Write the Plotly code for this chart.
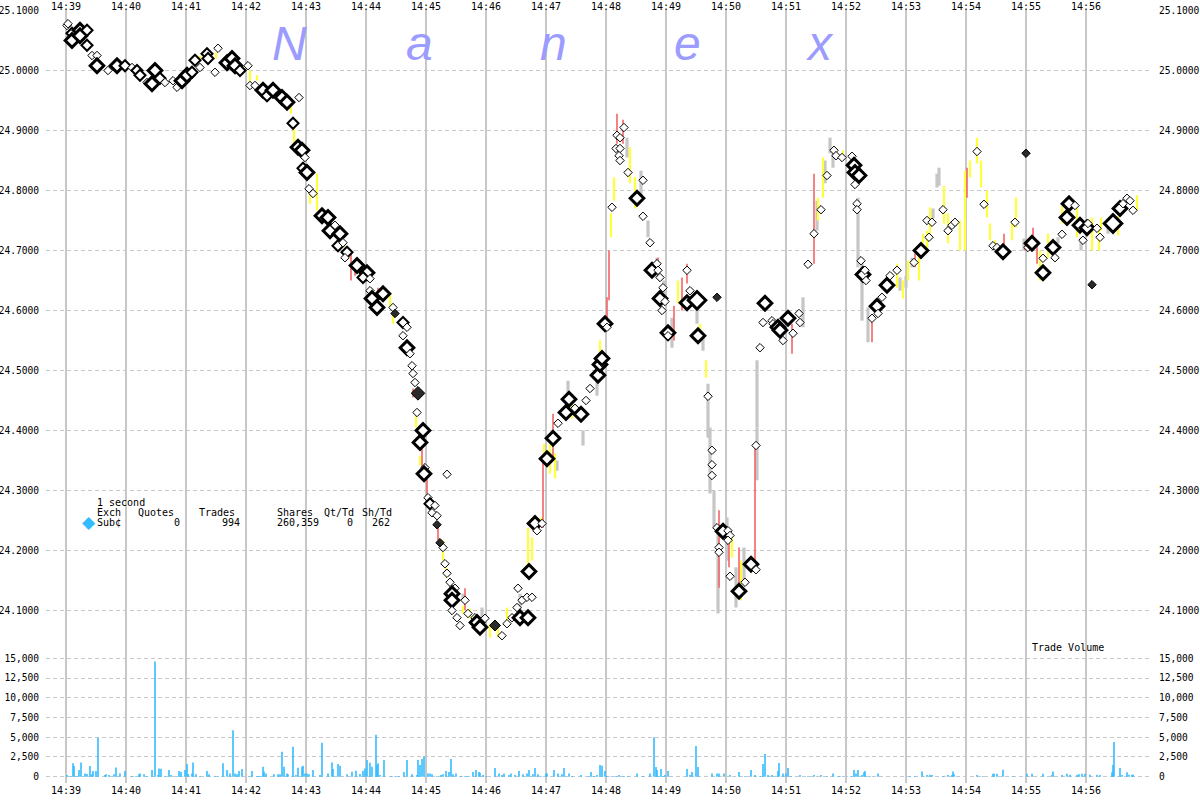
import plotly.graph_objects as go

# ---------------- data ----------------
minute_labels = ["14:39", "14:40", "14:41", "14:42", "14:43", "14:44", "14:45", "14:46", "14:47",
                 "14:48", "14:49", "14:50", "14:51", "14:52", "14:53", "14:54", "14:55", "14:56"]
minute_sec = [0, 60, 120, 180, 240, 300, 360, 420, 480, 540, 600, 660, 720, 780, 840, 900, 960, 1020]

price_ticks = [24.1, 24.2, 24.3, 24.4, 24.5, 24.6, 24.7, 24.8, 24.9, 25.0, 25.1]
volume_ticks = [0, 2500, 5000, 7500, 10000, 12500, 15000]

# trades (seconds after 14:39:00, price, size class S/M/B/H)
trade_sec = [
    1, 2, 6, 6, 14, 14, 21, 21, 26, 31,
    31, 42, 51, 59, 66, 71, 74, 81, 86, 89,
    94, 99, 107, 111, 116, 121, 126, 129, 134, 141,
    142, 149, 152, 161, 166, 169, 174, 182, 184, 189,
    197, 201, 207, 216, 221, 233, 227, 232, 236, 239,
    237, 241, 243, 247, 256, 262, 264, 269, 274, 272,
    277, 281, 279, 291, 301, 297, 304, 304, 306, 311,
    317, 327, 337, 341, 337, 341, 344, 346, 347, 349,
    351, 357, 354, 359, 358, 381, 362, 364, 369, 366,
    371, 377, 379, 381, 384, 389, 386, 386, 386, 391,
    394, 399, 402, 409, 411, 414, 419, 436, 441, 446,
    451, 452, 456, 454, 462, 461, 466, 463, 469, 471,
    476, 481, 487, 492, 500, 503, 509, 515, 520, 524,
    532, 534, 536, 539, 541, 546, 550, 551, 554, 554,
    553, 554, 558, 562, 571, 577, 577, 584, 586, 591,
    592, 594, 597, 594, 599, 596, 602, 602, 621, 624,
    621, 631, 632, 642, 646, 646, 646, 651, 653, 653,
    657, 662, 664, 662, 664, 673, 679, 685, 690, 690,
    694, 697, 699, 706, 707, 712, 714, 717, 722, 727,
    733, 734, 742, 748, 755, 761, 768, 770, 776, 786,
    788, 789, 793, 789, 791, 791, 795, 797, 799, 800,
    806, 811, 812, 816, 821, 824, 831, 848, 855, 863,
    861, 866, 877, 882, 886, 889, 911, 918, 927, 931,
    937, 949, 962, 966, 977, 977, 987, 989, 996, 1003,
    1009, 1001, 1014, 1017, 1021, 1022, 1031, 1034, 1047, 1054,
    1057, 1061, 1064, 1067,
]
trade_price = [
    25.075, 25.078, 25.062, 25.050, 25.067, 25.058, 25.067, 25.042, 25.025, 25.025,
    25.008, 25.000, 25.008, 25.008, 25.005, 25.000, 24.992, 24.980, 24.978, 25.000,
    24.987, 24.980, 24.983, 24.972, 24.983, 24.992, 24.997, 25.017, 25.005, 25.028,
    25.020, 24.997, 25.037, 25.013, 25.020, 25.008, 25.000, 25.008, 24.975, 24.975,
    24.967, 24.958, 24.967, 24.955, 24.947, 24.955, 24.912, 24.872, 24.867, 24.855,
    24.837, 24.830, 24.803, 24.795, 24.758, 24.755, 24.733, 24.742, 24.728, 24.708,
    24.713, 24.697, 24.688, 24.675, 24.663, 24.655, 24.653, 24.633, 24.620, 24.605,
    24.628, 24.605, 24.580, 24.572, 24.558, 24.538, 24.528, 24.508, 24.495, 24.480,
    24.430, 24.400, 24.380, 24.338, 24.328, 24.327, 24.288, 24.278, 24.275, 24.263,
    24.258, 24.205, 24.178, 24.162, 24.147, 24.137, 24.128, 24.117, 24.100, 24.088,
    24.075, 24.117, 24.095, 24.088, 24.080, 24.072, 24.087, 24.058, 24.078, 24.088,
    24.105, 24.137, 24.117, 24.088, 24.088, 24.122, 24.122, 24.165, 24.245, 24.233,
    24.245, 24.353, 24.387, 24.412, 24.430, 24.452, 24.437, 24.427, 24.450, 24.470,
    24.492, 24.510, 24.520, 24.578, 24.572, 24.772, 24.870, 24.892, 24.888, 24.870,
    24.858, 24.850, 24.905, 24.830, 24.787, 24.817, 24.757, 24.713, 24.667, 24.678,
    24.667, 24.655, 24.638, 24.620, 24.615, 24.600, 24.563, 24.558, 24.667, 24.633,
    24.613, 24.617, 24.558, 24.457, 24.367, 24.343, 24.325, 24.238, 24.205, 24.197,
    24.232, 24.233, 24.225, 24.217, 24.157, 24.132, 24.147, 24.177, 24.168, 24.375,
    24.538, 24.580, 24.612, 24.583, 24.578, 24.572, 24.567, 24.550, 24.587, 24.562,
    24.595, 24.580, 24.677, 24.728, 24.768, 24.825, 24.867, 24.858, 24.855, 24.857,
    24.842, 24.830, 24.825, 24.810, 24.778, 24.768, 24.683, 24.660, 24.667, 24.650,
    24.587, 24.607, 24.595, 24.622, 24.642, 24.658, 24.667, 24.680, 24.700, 24.722,
    24.750, 24.747, 24.768, 24.733, 24.742, 24.747, 24.865, 24.777, 24.708, 24.705,
    24.698, 24.747, 24.705, 24.712, 24.687, 24.663, 24.705, 24.688, 24.727, 24.778,
    24.775, 24.755, 24.742, 24.717, 24.738, 24.745, 24.737, 24.722, 24.745, 24.770,
    24.778, 24.787, 24.783, 24.767,
]
trade_size = (
    "SSMBBBMMSS" "BSBMSMMSBB" "MSSSBBMMSM" "MSSBBBMSSS" "BMBBBSMBBS"
    "MBSSBBBSBM" "SMSBBMSSBB" "BSMSSBSSSS" "SBBSBSSMSS" "SSSSSSBBSS"
    "SSSSBBSSSS" "SSSBBSSBBS" "SBBSBBSBSS" "BBBBSSSSSS" "SSSSBSSSBS"
    "SSSBSSBSSS" "BHBSSSSSSS" "BSSSSBSBSS" "SSBSSBBSBS" "SSSSSSSSSS"
    "BBBSSSSBSS" "SBSSBSSSBS" "SSSSSSSSSS" "BSSBSBBSSB" "SBBSBSSSHB"
    "SSSS"
)

# dark (filled) trades
dark_sec = [329, 352, 371, 374, 429, 651, 960, 1026]
dark_price = [24.595, 24.462, 24.243, 24.213, 24.075, 24.622, 24.862, 24.643]
dark_size = "SBSSMSSS"

# quote ranges per second
yellow_sec = [94, 134, 150, 184, 191, 225, 228, 244, 251, 280,
              324, 327, 350, 354, 377, 380, 397, 404, 424, 432,
              441, 462, 466, 475, 478, 484, 489, 506, 534, 545,
              548, 564, 569, 612, 634, 640, 666, 675, 752, 757,
              777, 812, 831, 837, 842, 853, 857, 861, 864, 878,
              882, 894, 899, 904, 911, 915, 921, 924, 929, 946,
              950, 974, 982, 996, 1011, 1026, 1033, 1035, 1052, 1071]
yellow_lo = [24.983, 25.017, 25.020, 24.972, 24.983, 24.928, 24.878, 24.778, 24.767, 24.683,
             24.605, 24.578, 24.405, 24.342, 24.183, 24.155, 24.095, 24.087, 24.055, 24.055,
             24.083, 24.162, 24.183, 24.242, 24.350, 24.328, 24.320, 24.420, 24.517, 24.722,
             24.783, 24.812, 24.770, 24.612, 24.550, 24.488, 24.188, 24.117, 24.750, 24.788,
             24.855, 24.588, 24.638, 24.620, 24.650, 24.650, 24.712, 24.695, 24.717, 24.745,
             24.712, 24.700, 24.700, 24.822, 24.845, 24.805, 24.755, 24.717, 24.705, 24.717,
             24.738, 24.650, 24.688, 24.745, 24.722, 24.700, 24.700, 24.733, 24.725, 24.767]
yellow_hi = [24.992, 25.025, 25.030, 25.000, 24.992, 24.950, 24.905, 24.800, 24.828, 24.708,
             24.628, 24.595, 24.428, 24.358, 24.217, 24.172, 24.108, 24.103, 24.078, 24.072,
             24.105, 24.238, 24.222, 24.255, 24.378, 24.378, 24.362, 24.455, 24.550, 24.762,
             24.822, 24.872, 24.822, 24.650, 24.578, 24.517, 24.222, 24.183, 24.788, 24.855,
             24.867, 24.612, 24.678, 24.650, 24.683, 24.695, 24.728, 24.733, 24.772, 24.808,
             24.762, 24.750, 24.833, 24.850, 24.888, 24.850, 24.800, 24.745, 24.717, 24.750,
             24.788, 24.700, 24.728, 24.775, 24.778, 24.755, 24.733, 24.755, 24.758, 24.792]

red_sec = [285, 289, 312, 347, 356, 361, 372, 399, 477, 487,
           541, 543, 551, 557, 592, 608, 616, 621, 653, 663,
           673, 689, 726, 748, 806, 849, 854, 901, 938, 959,
           967, 971]
red_lo = [24.650, 24.658, 24.617, 24.455, 24.333, 24.295, 24.217, 24.100, 24.238, 24.355,
          24.578, 24.617, 24.878, 24.878, 24.655, 24.550, 24.600, 24.645, 24.138, 24.172,
          24.128, 24.167, 24.528, 24.678, 24.547, 24.672, 24.687, 24.788, 24.700, 24.700,
          24.700, 24.678]
red_hi = [24.700, 24.680, 24.638, 24.470, 24.370, 24.320, 24.238, 24.137, 24.350, 24.428,
          24.622, 24.700, 24.928, 24.918, 24.688, 24.608, 24.655, 24.678, 24.267, 24.228,
          24.205, 24.372, 24.578, 24.828, 24.583, 24.695, 24.708, 24.838, 24.728, 24.713,
          24.738, 24.717]

grey_sec = [397, 416, 454, 491, 502, 517, 531, 561, 575, 582,
            591, 598, 606, 631, 637, 642, 644, 648, 652, 661,
            670, 678, 691, 691, 737, 751, 759, 764, 767, 792,
            796, 802, 834, 840, 846, 867, 871, 873, 958, 992,
            1015, 1042]
grey_lo = [24.117, 24.078, 24.095, 24.333, 24.450, 24.375, 24.458, 24.855, 24.783, 24.722,
           24.655, 24.617, 24.538, 24.578, 24.533, 24.388, 24.295, 24.238, 24.095, 24.183,
           24.105, 24.150, 24.405, 24.317, 24.572, 24.733, 24.812, 24.862, 24.838, 24.672,
           24.583, 24.547, 24.633, 24.638, 24.672, 24.753, 24.805, 24.808, 24.700, 24.712,
           24.700, 24.728]
grey_hi = [24.128, 24.105, 24.128, 24.350, 24.483, 24.400, 24.483, 24.888, 24.833, 24.750,
           24.688, 24.650, 24.588, 24.612, 24.555, 24.478, 24.405, 24.300, 24.238, 24.255,
           24.172, 24.205, 24.517, 24.405, 24.622, 24.783, 24.850, 24.888, 24.863, 24.788,
           24.683, 24.605, 24.655, 24.658, 24.688, 24.770, 24.828, 24.838, 24.720, 24.722,
           24.722, 24.738]

# per-second trade volume
vol_sec = [
    1, 5, 7, 8, 11, 13, 15, 19, 21, 24,
    26, 27, 30, 32, 39, 40, 43, 48, 50, 54,
    59, 66, 70, 73, 74, 78, 81, 86, 89, 92,
    93, 95, 99, 103, 105, 111, 113, 115, 119, 121,
    122, 126, 127, 130, 134, 141, 143, 149, 152, 157,
    161, 164, 167, 169, 171, 173, 176, 183, 186, 191,
    193, 195, 197, 198, 200, 208, 212, 214, 216, 218,
    221, 222, 227, 230, 232, 236, 237, 239, 241, 243,
    247, 254, 256, 262, 266, 267, 272, 274, 281, 286,
    290, 294, 297, 299, 301, 304, 306, 310, 311, 312,
    314, 318, 325, 329, 333, 338, 341, 346, 351, 352,
    354, 356, 358, 362, 364, 366, 371, 375, 377, 380,
    383, 385, 387, 390, 395, 399, 401, 407, 410, 413,
    414, 417, 420, 429, 433, 436, 438, 443, 445, 449,
    453, 457, 461, 463, 467, 469, 472, 475, 480, 481,
    488, 492, 496, 498, 503, 506, 515, 523, 525, 528,
    531, 534, 536, 539, 541, 546, 551, 553, 558, 562,
    571, 577, 584, 588, 590, 591, 593, 595, 597, 599,
    602, 621, 624, 626, 630, 632, 646, 651, 653, 658,
    664, 673, 679, 685, 689, 694, 697, 699, 702, 706,
    707, 712, 713, 717, 720, 722, 725, 734, 742, 748,
    755, 761, 767, 773, 777, 785, 788, 790, 792, 796,
    798, 799, 804, 812, 844, 849, 856, 861, 864, 866,
    877, 882, 886, 887, 888, 911, 917, 927, 928, 931,
    937, 947, 961, 966, 977, 986, 987, 996, 1001, 1004,
    1011, 1013, 1016, 1019, 1024, 1031, 1034, 1046, 1047, 1048,
    1054, 1056, 1061, 1063, 1066, 1067,
]
vol_shares = [
    200, 100, 1700, 1350, 100, 850, 1800, 420, 350, 1350,
    300, 720, 720, 4950, 200, 300, 200, 300, 1180, 420,
    720, 100, 100, 300, 420, 300, 100, 850, 14600, 200,
    1050, 1000, 100, 850, 200, 100, 720, 630, 850, 1600,
    350, 420, 1800, 300, 100, 720, 300, 100, 100, 1700,
    850, 420, 5900, 400, 300, 720, 970, 100, 720, 100,
    100, 100, 1270, 650, 420, 300, 300, 300, 3170, 1270,
    420, 300, 3800, 200, 1140, 1270, 1400, 400, 400, 300,
    850, 200, 4300, 400, 1800, 970, 1600, 1400, 300, 630,
    760, 350, 760, 1050, 2100, 1770, 1270, 5300, 1480, 1690,
    200, 2100, 100, 100, 100, 600, 2100, 300, 200, 2100,
    1480, 2240, 2600, 400, 400, 300, 100, 200, 300, 720,
    600, 2240, 300, 420, 100, 100, 100, 600, 850, 600,
    500, 200, 100, 1100, 400, 200, 400, 200, 400, 200,
    720, 300, 400, 850, 300, 1100, 300, 100, 400, 400,
    850, 400, 300, 1100, 400, 100, 200, 100, 600, 100,
    200, 1480, 1400, 720, 100, 100, 100, 200, 100, 100,
    400, 100, 400, 5000, 1230, 850, 100, 970, 100, 200,
    720, 970, 200, 600, 3900, 1230, 400, 400, 400, 400,
    200, 600, 100, 850, 200, 100, 1600, 2870, 200, 200,
    100, 720, 1730, 400, 400, 1100, 100, 200, 100, 200,
    200, 100, 400, 100, 100, 100, 850, 400, 850, 200,
    550, 720, 100, 420, 100, 100, 670, 200, 250, 200,
    100, 200, 200, 670, 300, 200, 100, 380, 380, 380,
    880, 100, 380, 380, 380, 200, 670, 200, 380, 250,
    250, 300, 380, 380, 250, 250, 200, 550, 1500, 4400,
    1100, 200, 550, 250, 250, 250,
]

# legend block values
stat_interval = "1 second"
stat_headers = ["Exch", "Quotes", "Trades", "Shares", "Qt/Td", "Sh/Td"]
stat_exchange = "Sub¢"
stat_quotes = 0
stat_trades = 994
stat_shares = 260359
stat_qt_per_td = 0
stat_sh_per_td = 262

watermark_letters = ["N", "a", "n", "e", "x"]

# ---------------- styling / layout ----------------
W, H = 1200, 800
ML, MR, MT, MB = 46, 48, 10, 17
PW, PH = W - ML - MR, H - MT - MB
Y_SPLIT = 644  # pixel row where price panel meets volume panel


def fx(px):
    return (px - ML) / PW


def fy(py):
    return (H - MB - py) / PH


split = fy(Y_SPLIT)
x_range = [-20, 1086]
price_range = [25.1 - (Y_SPLIT - 10.5) / 600.0, 25.1 + 0.5 / 600.0]
vpp = 15000 / 118.4  # shares per pixel in volume panel
volume_range = [-(H - MB - 776.7) * vpp, (776.7 - Y_SPLIT) * vpp]

MONO = "DejaVu Sans Mono"
GRID = "#c8c8c8"

size_map = {"S": 6.5, "M": 8.5, "B": 10.5, "H": 13.5}
lw_map = {"S": 1.0, "M": 2.0, "B": 3.0, "H": 3.0}

fig = go.Figure()

# volume bars
fig.add_trace(go.Bar(x=vol_sec, y=vol_shares, width=1.6,
                     marker=dict(color="#33bbff", line=dict(width=0), opacity=1),
                     xaxis="x", yaxis="y2", hoverinfo="skip"))


def seg(secs, lo, hi):
    xs, ys = [], []
    for s, a, b in zip(secs, lo, hi):
        xs += [s, s, None]
        ys += [a, b, None]
    return xs, ys


for secs, lo, hi, col, w in [(grey_sec, grey_lo, grey_hi, "#c6c6c6", 3.2),
                              (yellow_sec, yellow_lo, yellow_hi, "#ffff3c", 2.2),
                              (red_sec, red_lo, red_hi, "#f26464", 1.6)]:
    xs, ys = seg(secs, lo, hi)
    fig.add_trace(go.Scatter(x=xs, y=ys, mode="lines", line=dict(color=col, width=w),
                             xaxis="x", yaxis="y", hoverinfo="skip"))

fig.add_trace(go.Scatter(
    x=trade_sec, y=trade_price, mode="markers", xaxis="x", yaxis="y", opacity=1,
    marker=dict(symbol="diamond", color="white", opacity=1,
                size=[size_map[c] for c in trade_size],
                line=dict(color="#000000", width=[lw_map[c] for c in trade_size])),
    hoverinfo="skip"))
fig.add_trace(go.Scatter(
    x=dark_sec, y=dark_price, mode="markers", xaxis="x", yaxis="y", opacity=1,
    marker=dict(symbol="diamond", color="#2a2a2a", opacity=1,
                size=[size_map[c] for c in dark_size],
                line=dict(color="#000000", width=1)),
    hoverinfo="skip"))

# placeholder traces so the mirrored axes render
fig.add_trace(go.Scatter(x=[None], y=[None], xaxis="x2", yaxis="y", showlegend=False))
fig.add_trace(go.Scatter(x=[None], y=[None], xaxis="x", yaxis="y3", showlegend=False))
fig.add_trace(go.Scatter(x=[None], y=[None], xaxis="x", yaxis="y4", showlegend=False))

tickfont = dict(family=MONO, size=10, color="black")
ytickfont = dict(family=MONO, size=9.6, color="black")
fig.update_layout(
    template="none",
    width=W, height=H, autosize=False,
    margin=dict(l=ML, r=MR, t=MT, b=MB, pad=0),
    paper_bgcolor="white", plot_bgcolor="white",
    showlegend=False,
    font=dict(family=MONO, size=10, color="black"),
    xaxis=dict(range=x_range, tickvals=minute_sec, ticktext=minute_labels, showgrid=True,
               gridcolor=GRID, gridwidth=2, zeroline=False, showline=False, ticks="",
               anchor="y2", side="bottom", tickfont=tickfont, automargin=False),
    xaxis2=dict(range=x_range, tickvals=minute_sec, ticktext=minute_labels, showgrid=False,
                zeroline=False, showline=False, ticks="", overlaying="x", side="top", anchor="y",
                tickfont=tickfont, automargin=False, ticklabelstandoff=-3),
    yaxis=dict(domain=[split, 1], range=price_range, tickvals=price_ticks, tickformat=".4f",
               showgrid=True, gridcolor=GRID, gridwidth=1, griddash="4px,3px", zeroline=False,
               showline=False, ticks="outside", ticklen=4, tickcolor="rgba(0,0,0,0)", anchor="x",
               tickfont=ytickfont, automargin=False),
    yaxis2=dict(domain=[0, split], range=volume_range, tickvals=volume_ticks, tickformat=",d",
                showgrid=True, gridcolor=GRID, gridwidth=1, griddash="4px,3px", zeroline=False,
                showline=False, ticks="outside", ticklen=4, tickcolor="rgba(0,0,0,0)", anchor="x",
                tickfont=ytickfont, automargin=False),
    yaxis3=dict(range=price_range, tickvals=price_ticks, tickformat=".4f", overlaying="y",
                side="right", anchor="x", showgrid=False, zeroline=False, showline=False,
                ticks="outside", ticklen=4, tickcolor="rgba(0,0,0,0)", tickfont=ytickfont,
                automargin=False),
    yaxis4=dict(range=volume_range, tickvals=volume_ticks, tickformat=",d", overlaying="y2",
                side="right", anchor="x", showgrid=False, zeroline=False, showline=False,
                ticks="outside", ticklen=4, tickcolor="rgba(0,0,0,0)", tickfont=ytickfont,
                automargin=False),
)

ann = []
# watermark
for letter, cx in zip(watermark_letters, [289, 419, 553, 687, 820]):
    ann.append(dict(x=fx(cx), y=fy(43), xref="paper", yref="paper", text=letter, showarrow=False,
                    xanchor="center", yanchor="middle",
                    font=dict(family="Liberation Sans", size=48, color="#9c9cff", style="italic")))


def label(text, px, py, anchor="left"):
    ann.append(dict(x=fx(px), y=fy(py), xref="paper", yref="paper", text=text, showarrow=False,
                    xanchor=anchor, yanchor="middle", borderpad=0,
                    font=dict(family=MONO, size=10, color="black")))


label(stat_interval, 96, 502)
for h, px in zip(stat_headers, [96, 137, 198, 276, 323, 361]):
    label(h, px, 512)
label(stat_exchange, 96, 522)
label(f"{stat_quotes}", 181, 522, "right")
label(f"{stat_trades:,}", 241, 522, "right")
label(f"{stat_shares:,}", 320, 522, "right")
label(f"{stat_qt_per_td}", 354, 522, "right")
label(f"{stat_sh_per_td}", 391, 522, "right")
label("Trade Volume", 1031, 647)

# legend swatch diamond
ann.append(dict(x=fx(89), y=fy(522), xref="paper", yref="paper", text="◆", showarrow=False,
                font=dict(family="DejaVu Sans", size=17, color="#33bbff"),
                xanchor="center", yanchor="middle"))

fig.update_layout(annotations=ann)

fig.write_html("out.html", config={"displayModeBar": False, "staticPlot": True},
               post_script="document.body.style.margin='0';document.body.style.padding='0';"
                           "document.body.style.overflow='hidden';")
